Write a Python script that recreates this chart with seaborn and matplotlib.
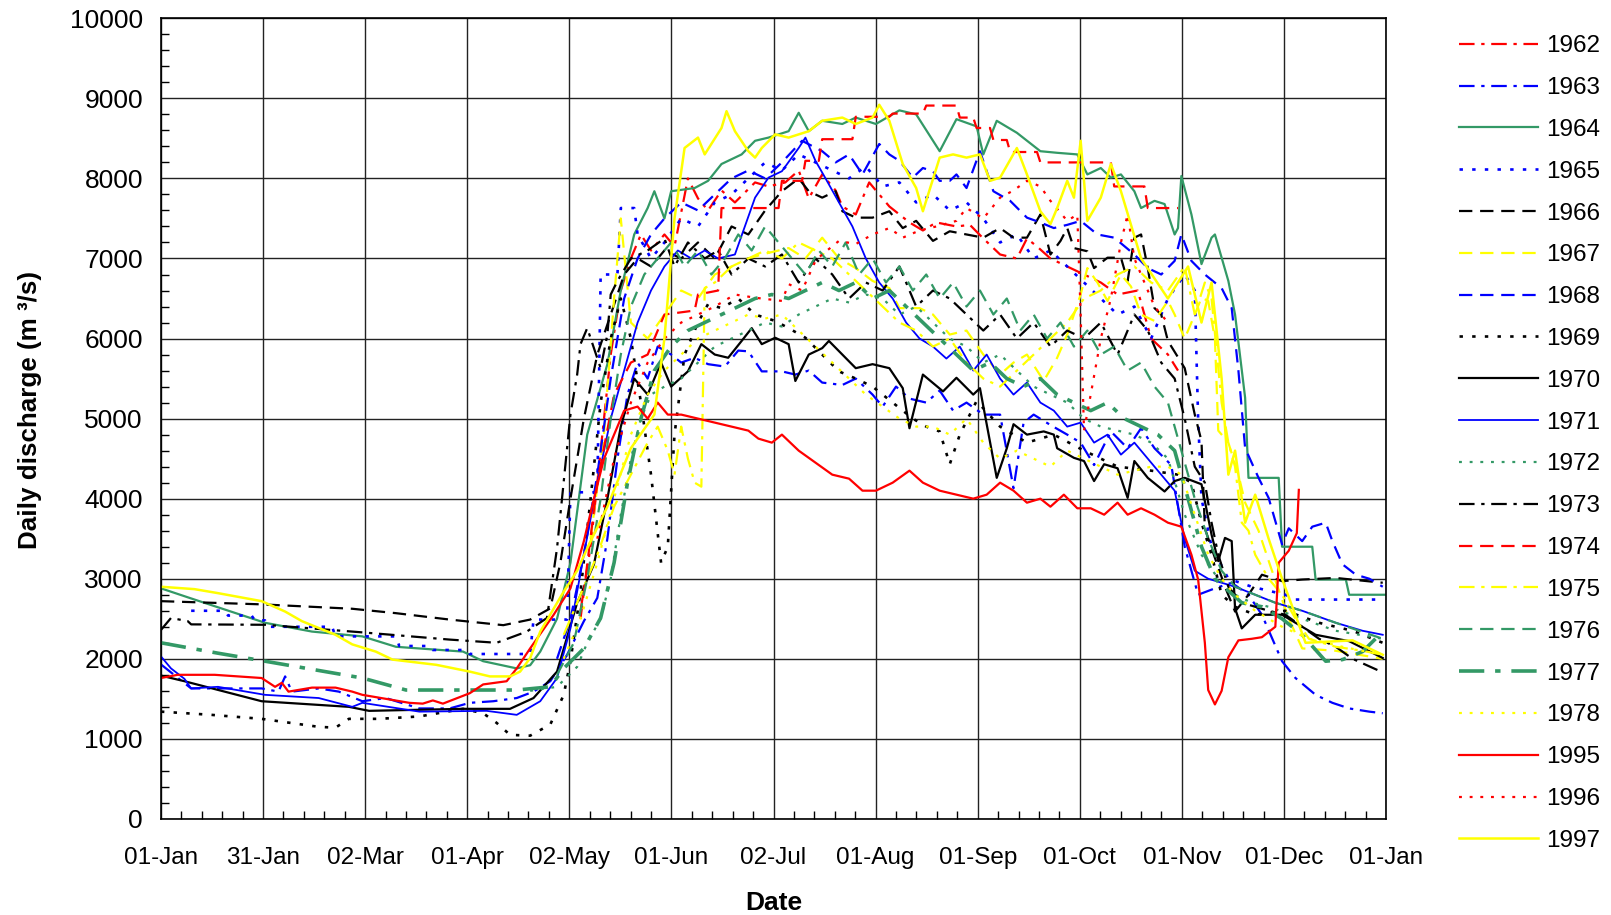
import matplotlib
matplotlib.use("Agg")
import matplotlib.pyplot as plt
import numpy as np
import pandas as pd
import seaborn as sb

# day of year (0 = 01-Jan) and daily discharge in m3/s

days_1962 = [125, 128, 131, 134, 137, 140, 143, 146, 150, 153, 157, 160, 163, 167, 171, 177, 181, 186, 190, 193, 197, 201, 203, 207, 211, 217, 223, 227, 231, 237, 241, 245, 250, 255, 258, 261, 265, 270, 275, 280, 285, 291, 295, 300, 303]
q_1962 = [2600, 3400, 4600, 5800, 6600, 7000, 7300, 7100, 7300, 7150, 8000, 7750, 7600, 7850, 7700, 7950, 7900, 7950, 8100, 7750, 8050, 7850, 7650, 7550, 7950, 7650, 7450, 7350, 7450, 7400, 7420, 7250, 7050, 7000, 7250, 7150, 7000, 6900, 6800, 6700, 6550, 6600, 6000, 5800, 5600]

days_1963 = [0, 9, 30, 35, 37, 39, 47, 53, 60, 67, 77, 86, 92, 99, 106, 111, 116, 121, 126, 130, 133, 136, 139, 142, 145, 148, 152, 155, 159, 163, 168, 172, 175, 179, 185, 189, 193, 197, 203, 207, 212, 215, 219, 223, 228, 232, 236, 240, 245, 250, 254, 257, 260, 265, 270, 274, 278, 283, 288, 292, 296, 301, 305, 309, 314, 319, 324, 328, 334, 338, 344, 349, 354, 360, 364]
q_1963 = [1930, 1630, 1630, 1590, 1780, 1590, 1630, 1590, 1470, 1510, 1380, 1380, 1450, 1470, 1510, 1590, 1720, 2050, 2470, 2760, 3500, 4500, 5300, 5700, 5500, 5900, 5800, 5700, 5760, 5680, 5650, 5850, 5840, 5590, 5590, 5550, 5600, 5450, 5420, 5500, 5300, 5150, 5400, 5250, 5200, 5350, 5100, 5200, 5050, 5050, 4130, 4950, 5050, 4920, 4800, 4700, 4420, 4840, 4630, 4880, 4630, 4420, 3400, 2800, 2880, 2950, 2800, 2550, 1970, 1760, 1550, 1450, 1380, 1340, 1320]

days_1964 = [0, 10, 31, 45, 60, 70, 90, 96, 106, 110, 113, 118, 122, 127, 133, 137, 141, 145, 147, 150, 152, 159, 163, 167, 173, 177, 181, 187, 190, 193, 197, 203, 207, 213, 220, 225, 232, 237, 243, 245, 249, 255, 262, 267, 273, 276, 280, 283, 286, 290, 292, 296, 299, 302, 303, 304, 307, 310, 313, 314, 318, 320, 323, 324, 333, 334, 343, 344, 353, 354, 365]
q_1964 = [2880, 2740, 2450, 2340, 2280, 2150, 2090, 1970, 1880, 1920, 2090, 2500, 3200, 4800, 5680, 6600, 7300, 7630, 7840, 7500, 7840, 7880, 7970, 8180, 8300, 8470, 8510, 8590, 8820, 8590, 8720, 8680, 8760, 8680, 8850, 8800, 8340, 8740, 8650, 8300, 8720, 8570, 8340, 8320, 8300, 8050, 8130, 8010, 8050, 7840, 7630, 7720, 7680, 7300, 7380, 8030, 7550, 6930, 7260, 7300, 6720, 6300, 5260, 4260, 4260, 3400, 3400, 2990, 2990, 2800, 2800]

days_1965 = [9, 19, 20, 27, 28, 31, 32, 51, 52, 70, 71, 80, 81, 91, 92, 110, 111, 121, 122, 130, 131, 136, 137, 141, 142, 146, 150, 155, 160, 165, 170, 175, 180, 185, 190, 195, 200, 205, 210, 215, 220, 225, 230, 235, 240, 245, 250, 255, 260, 265, 270, 275, 280, 285, 290, 295, 300, 305, 308, 309, 310, 313, 318, 325, 335, 338, 364]
q_1965 = [2600, 2600, 2540, 2540, 2480, 2480, 2400, 2400, 2280, 2280, 2160, 2160, 2110, 2110, 2060, 2060, 2490, 2490, 4080, 4080, 6800, 6800, 7630, 7630, 7300, 7000, 7200, 7500, 7400, 7700, 7800, 8000, 8200, 8100, 8300, 8200, 8100, 8000, 8150, 7900, 7950, 7700, 7800, 7600, 7700, 7500, 7200, 7300, 7000, 7100, 6900, 6700, 6500, 6300, 6400, 6000, 6500, 6800, 6600, 5000, 4000, 3400, 3000, 2900, 2800, 2740, 2740]

days_1966 = [0, 30, 57, 70, 86, 102, 110, 116, 119, 122, 126, 130, 134, 138, 142, 146, 150, 155, 160, 165, 170, 175, 180, 185, 190, 193, 197, 201, 203, 207, 212, 217, 221, 225, 230, 235, 240, 245, 250, 254, 258, 262, 265, 268, 270, 272, 276, 278, 282, 286, 288, 290, 292, 294, 296, 298, 300, 305, 308, 310, 311, 314, 317, 320, 324, 328, 334, 340, 350, 364]
q_1966 = [2720, 2680, 2625, 2570, 2490, 2420, 2490, 2630, 3200, 4000, 5000, 5800, 6300, 6800, 7000, 6900, 7100, 7000, 7200, 7000, 7400, 7300, 7600, 7840, 8000, 7840, 7760, 7840, 7590, 7510, 7510, 7590, 7380, 7470, 7220, 7340, 7300, 7260, 7380, 7260, 7260, 7550, 7050, 7220, 7380, 7130, 7090, 6880, 7010, 7010, 6720, 7260, 7300, 6880, 6380, 6300, 5970, 5630, 5050, 4720, 3630, 3260, 2900, 2590, 2800, 3050, 2970, 2990, 3010, 2950]

days_1967 = [128, 132, 135, 137, 140, 145, 150, 155, 160, 165, 170, 175, 179, 187, 192, 197, 202, 207, 212, 217, 220, 226, 230, 235, 240, 245, 250, 254, 258, 263, 267, 270, 274, 276, 279, 282, 286, 289, 292, 296, 300, 302, 305, 308, 310, 312, 314, 315, 318, 321, 323, 327, 331, 336, 340, 350, 364]
q_1967 = [3500, 4800, 6500, 7500, 6200, 6000, 6300, 6600, 6500, 6800, 6900, 7000, 7050, 7130, 7000, 7260, 7000, 6880, 6720, 6630, 6380, 6380, 6300, 6050, 6100, 5800, 5550, 5700, 5800, 5470, 5760, 6050, 6550, 6880, 6700, 6470, 6800, 6650, 6300, 6220, 6470, 6300, 6000, 6300, 6510, 6470, 6000, 4850, 4700, 4300, 3950, 3600, 3100, 2500, 2130, 2100, 2000]

days_1968 = [118, 122, 126, 130, 134, 138, 142, 146, 150, 155, 160, 165, 170, 175, 180, 185, 191, 197, 201, 205, 209, 214, 217, 220, 224, 227, 230, 232, 235, 237, 240, 244, 248, 253, 258, 262, 266, 270, 274, 279, 284, 290, 294, 298, 302, 304, 307, 311, 316, 319, 321, 323, 327, 330, 334, 336, 340, 343, 347, 349, 352, 356, 360, 364]
q_1968 = [2000, 2500, 3300, 4300, 5500, 6500, 7000, 7300, 7500, 7700, 7600, 7800, 8000, 8100, 8000, 8200, 8470, 8340, 8200, 8300, 8050, 8430, 8300, 8220, 8010, 8130, 8090, 7970, 7970, 8050, 7880, 8340, 7840, 7720, 7510, 7450, 7380, 7420, 7470, 7300, 7260, 7050, 6880, 6800, 6970, 7300, 6970, 6800, 6630, 6380, 5600, 4630, 4260, 4010, 3430, 3630, 3470, 3650, 3700, 3470, 3180, 3050, 3000, 2900]

days_1969 = [0, 15, 30, 47, 52, 56, 65, 77, 90, 96, 100, 104, 110, 116, 120, 122, 125, 128, 131, 134, 137, 140, 143, 146, 149, 151, 153, 156, 160, 163, 167, 172, 177, 183, 187, 192, 197, 202, 207, 212, 218, 224, 228, 232, 235, 238, 243, 250, 258, 266, 275, 285, 295, 303, 307, 310, 313, 316, 320, 326, 335, 345, 355, 364]
q_1969 = [1340, 1300, 1250, 1150, 1140, 1250, 1250, 1280, 1375, 1320, 1200, 1050, 1040, 1180, 1550, 1970, 2840, 4000, 5200, 6000, 6500, 6000, 5200, 4300, 3200, 3400, 4800, 5800, 6200, 6430, 6380, 6500, 6300, 6220, 6130, 6010, 5800, 5590, 5500, 5400, 5200, 5000, 4900, 4840, 4430, 4800, 5220, 4900, 4700, 4800, 4600, 4400, 4350, 4300, 4200, 3700, 3300, 2800, 2650, 2550, 2600, 2450, 2350, 2200]

days_1970 = [0, 7, 30, 56, 62, 90, 104, 111, 118, 124, 129, 133, 137, 141, 145, 149, 152, 157, 161, 165, 169, 173, 176, 179, 183, 187, 189, 193, 197, 199, 203, 207, 212, 217, 221, 223, 227, 233, 237, 242, 244, 249, 252, 254, 258, 263, 266, 267, 272, 275, 278, 281, 285, 288, 290, 294, 299, 302, 305, 310, 313, 315, 317, 319, 320, 322, 326, 334, 344, 354, 364]
q_1970 = [1790, 1720, 1470, 1400, 1350, 1375, 1375, 1510, 1840, 2700, 3180, 4000, 4900, 5500, 5300, 5700, 5400, 5590, 5930, 5800, 5760, 5970, 6130, 5930, 6010, 5930, 5470, 5800, 5880, 5970, 5800, 5630, 5680, 5630, 5380, 4880, 5550, 5340, 5510, 5300, 5380, 4260, 4630, 4930, 4800, 4840, 4800, 4630, 4510, 4470, 4220, 4430, 4380, 4010, 4470, 4260, 4090, 4220, 4260, 4180, 3550, 3220, 3510, 3470, 2630, 2380, 2550, 2550, 2300, 2220, 2010]

days_1971 = [0, 3, 7, 9, 17, 31, 47, 57, 60, 77, 97, 106, 113, 118, 122, 126, 130, 134, 138, 142, 146, 150, 154, 158, 162, 166, 171, 177, 181, 185, 190, 192, 195, 198, 202, 206, 210, 214, 218, 222, 226, 230, 234, 238, 242, 246, 250, 254, 258, 262, 266, 270, 274, 278, 282, 286, 290, 294, 298, 302, 305, 308, 312, 316, 320, 326, 332, 340, 350, 358, 364]
q_1971 = [2030, 1880, 1750, 1630, 1650, 1550, 1510, 1400, 1450, 1340, 1350, 1300, 1470, 1760, 2380, 3300, 4200, 5000, 5600, 6200, 6600, 6900, 7100, 7000, 7100, 7000, 7050, 7760, 8010, 8090, 8380, 8510, 8220, 8000, 7700, 7400, 7000, 6700, 6500, 6200, 6000, 5900, 5750, 5900, 5600, 5800, 5500, 5300, 5450, 5200, 5100, 4900, 4950, 4700, 4800, 4550, 4700, 4500, 4300, 4100, 3500, 3100, 3000, 2950, 2900, 2800, 2700, 2600, 2450, 2350, 2300]

days_1972 = [110, 118, 124, 127, 131, 134, 137, 140, 143, 146, 150, 155, 160, 165, 170, 175, 180, 185, 190, 195, 200, 205, 210, 215, 220, 225, 230, 235, 240, 245, 250, 255, 260, 265, 270, 275, 280, 285, 290, 295, 300, 305, 310, 315, 320, 325, 330, 340, 350, 364]
q_1972 = [1600, 1650, 1900, 2200, 2500, 3000, 3800, 4500, 5000, 5300, 5400, 5500, 5700, 5900, 6000, 6100, 6200, 6150, 6300, 6400, 6500, 6450, 6550, 6500, 6300, 6400, 6200, 6000, 5900, 5700, 5800, 5600, 5400, 5300, 5200, 5000, 4900, 4850, 4800, 4700, 4500, 3800, 3300, 3000, 2800, 2700, 2650, 2500, 2350, 2250]

days_1973 = [0, 3, 8, 9, 31, 60, 86, 100, 109, 115, 118, 122, 124, 125, 127, 129, 131, 133, 134, 136, 140, 145, 150, 153, 157, 162, 166, 170, 175, 180, 185, 190, 195, 200, 205, 210, 215, 220, 225, 230, 235, 240, 245, 250, 255, 260, 265, 270, 275, 280, 285, 290, 294, 298, 302, 305, 308, 311, 313, 315, 318, 322, 326, 330, 335, 340, 345, 350, 355, 364]
q_1973 = [2360, 2510, 2470, 2430, 2425, 2330, 2240, 2200, 2340, 2510, 3380, 5050, 5550, 5930, 6130, 5880, 5630, 6050, 6550, 6720, 7000, 7100, 7250, 6900, 7200, 7000, 7100, 6800, 7000, 6900, 7050, 6700, 7000, 6800, 6500, 6700, 6600, 6900, 6400, 6600, 6500, 6300, 6100, 6300, 6000, 6200, 5900, 6100, 6000, 6200, 5800, 6300, 6100, 5700, 5500, 5000, 4400, 4200, 3700, 3300, 2900, 2700, 2650, 2600, 2550, 2400, 2250, 2150, 2000, 1830]

days_1974 = [125, 130, 135, 140, 145, 150, 159, 160, 166, 167, 184, 185, 191, 192, 196, 197, 206, 207, 217, 218, 227, 228, 237, 238, 242, 243, 247, 248, 252, 253, 261, 262, 283, 284, 293, 294, 303]
q_1974 = [2500, 4200, 5300, 5700, 5800, 6300, 6350, 6550, 6600, 7630, 7630, 7970, 7970, 8220, 8220, 8490, 8490, 8770, 8770, 8810, 8810, 8910, 8910, 8760, 8760, 8630, 8630, 8480, 8480, 8330, 8330, 8200, 8200, 7900, 7900, 7630, 7630]

days_1975 = [120, 125, 130, 135, 140, 145, 148, 151, 153, 155, 157, 159, 161, 162, 165, 170, 175, 180, 185, 190, 195, 200, 205, 210, 215, 220, 225, 230, 235, 240, 245, 250, 255, 260, 265, 270, 275, 280, 285, 290, 295, 300, 305, 308, 311, 313, 316, 318, 320, 322, 324, 326, 330, 334, 338, 342, 350, 358, 364]
q_1975 = [2300, 2800, 3300, 3900, 4300, 4700, 4900, 4600, 4300, 4900, 4500, 4200, 4150, 6630, 6700, 6900, 7000, 7100, 7000, 7200, 7100, 7000, 6800, 6600, 6400, 6200, 6100, 5900, 6000, 5700, 5500, 5400, 5600, 5800, 6000, 6200, 6500, 6600, 6800, 6900, 6700, 6600, 6900, 6300, 6700, 6500, 5200, 4700, 4400, 3700, 3600, 3300, 3000, 2800, 2500, 2250, 2150, 2100, 2050]

days_1976 = [118, 123, 127, 131, 134, 137, 140, 144, 148, 152, 156, 160, 164, 168, 172, 176, 180, 184, 188, 192, 196, 200, 204, 208, 212, 216, 220, 224, 228, 232, 236, 240, 244, 248, 252, 256, 260, 264, 268, 272, 276, 280, 284, 288, 292, 296, 300, 304, 308, 312, 316, 320, 326, 332, 340, 350, 364]
q_1976 = [1800, 2200, 3000, 4000, 5000, 5800, 6400, 6800, 7000, 7200, 6900, 7100, 6800, 7000, 7300, 7100, 7400, 7200, 7000, 6800, 7100, 6900, 7200, 6800, 7000, 6700, 6900, 6600, 6800, 6500, 6700, 6400, 6600, 6300, 6500, 6100, 6300, 6000, 6200, 5900, 6100, 5800, 5900, 5600, 5700, 5400, 5200, 4600, 4000, 3500, 3100, 2900, 2800, 2700, 2600, 2450, 2250]

days_1977 = [0, 17, 31, 60, 73, 106, 116, 120, 126, 131, 135, 139, 143, 147, 152, 157, 162, 167, 172, 177, 182, 187, 192, 197, 202, 207, 212, 217, 222, 227, 232, 237, 242, 247, 252, 257, 262, 267, 272, 277, 282, 287, 292, 297, 302, 306, 310, 314, 318, 322, 328, 334, 340, 347, 352, 358, 364]
q_1977 = [2200, 2070, 1970, 1760, 1610, 1610, 1650, 1880, 2130, 2510, 3200, 4200, 5000, 5600, 5900, 6100, 6200, 6300, 6400, 6500, 6550, 6500, 6600, 6700, 6600, 6700, 6500, 6600, 6400, 6200, 6000, 5800, 5600, 5700, 5500, 5400, 5500, 5300, 5200, 5100, 5200, 5000, 4900, 4800, 4600, 4000, 3400, 3000, 2850, 2700, 2650, 2500, 2300, 1970, 1990, 2090, 2340]

days_1978 = [120, 125, 130, 135, 140, 145, 150, 155, 160, 165, 170, 175, 180, 185, 190, 195, 200, 205, 210, 215, 220, 225, 230, 235, 240, 245, 250, 255, 260, 265, 270, 275, 280, 285, 290, 295, 300, 304, 308, 312, 316, 320, 326, 334, 342, 352, 364]
q_1978 = [2000, 2500, 3200, 4000, 4800, 5300, 5600, 5800, 6000, 6100, 6200, 6300, 6250, 6300, 6100, 5900, 5700, 5500, 5300, 5150, 5000, 4900, 4900, 4800, 5000, 4700, 4500, 4600, 4500, 4400, 4600, 4500, 4400, 4300, 4350, 4400, 4400, 4300, 3800, 3300, 3000, 2800, 2600, 2400, 2250, 2150, 2050]

days_1995 = [0, 5, 16, 30, 34, 36, 38, 45, 52, 57, 60, 74, 78, 81, 84, 92, 96, 103, 106, 110, 117, 122, 126, 129, 132, 135, 138, 142, 145, 148, 151, 155, 160, 165, 170, 175, 178, 182, 185, 190, 195, 200, 205, 209, 213, 218, 223, 227, 232, 237, 242, 246, 250, 254, 258, 262, 265, 269, 273, 277, 281, 285, 288, 292, 296, 300, 304, 307, 309, 311, 312, 314, 316, 318, 321, 325, 328, 332, 333, 336, 338.4, 339]
q_1995 = [1760, 1800, 1800, 1760, 1650, 1700, 1590, 1640, 1640, 1590, 1550, 1450, 1440, 1480, 1440, 1570, 1680, 1720, 1880, 2130, 2550, 2880, 3470, 4000, 4500, 4800, 5100, 5150, 5000, 5200, 5050, 5050, 5000, 4950, 4900, 4850, 4750, 4700, 4800, 4600, 4450, 4300, 4250, 4100, 4100, 4200, 4350, 4200, 4100, 4050, 4000, 4050, 4200, 4100, 3950, 4000, 3900, 4050, 3880, 3880, 3800, 3950, 3800, 3880, 3800, 3700, 3650, 3300, 2990, 2200, 1610, 1430, 1600, 2020, 2230, 2250, 2270, 2400, 3200, 3350, 3570, 4110]

days_1996 = [130, 135, 140, 145, 150, 155, 160, 165, 171, 177, 185, 187, 191, 195, 197, 202, 207, 212, 217, 221, 226, 231, 237, 240, 245, 250, 254, 258, 262, 265, 270, 273, 274, 275, 277, 280, 283, 286, 288, 290, 293, 296, 300]
q_1996 = [3500, 4500, 5200, 5700, 6000, 6200, 6300, 6400, 6550, 6510, 6470, 6680, 6600, 6970, 7050, 7220, 7180, 7300, 7380, 7260, 7350, 7400, 7470, 7630, 7500, 7760, 7850, 7970, 7900, 7720, 7470, 7550, 6300, 4850, 5300, 6000, 6500, 7200, 7550, 7000, 6700, 6400, 6200]

days_1997 = [0, 10, 17, 30, 37, 42, 52, 57, 64, 69, 82, 92, 98, 104, 107, 110, 113, 120, 124, 127, 133, 140, 147, 150, 153, 156, 160, 162, 167, 168.5, 171, 175, 177, 179, 183, 187, 193, 197, 203, 207, 212, 214, 217, 221, 225, 227, 232, 236, 240, 244, 247, 250, 255, 258, 262, 265, 267, 270, 272, 274, 276, 280, 283, 286, 292, 300, 306, 310, 313, 316, 318, 320, 323, 326, 330, 334, 341, 355, 364]
q_1997 = [2900, 2870, 2820, 2720, 2590, 2470, 2300, 2180, 2090, 1990, 1925, 1840, 1780, 1780, 1840, 2010, 2340, 2840, 3100, 3380, 3900, 4630, 5050, 6000, 7500, 8380, 8510, 8300, 8630, 8840, 8590, 8340, 8260, 8380, 8550, 8510, 8590, 8720, 8760, 8680, 8760, 8920, 8720, 8180, 7880, 7590, 8260, 8300, 8260, 8300, 7970, 8010, 8380, 8050, 7590, 7430, 7630, 7970, 7760, 8470, 7470, 7760, 8180, 7840, 7000, 6500, 6900, 6200, 6700, 5500, 4300, 4600, 3700, 4050, 3500, 3000, 2200, 2230, 2050]

years = [1962, 1963, 1964, 1965, 1966, 1967, 1968, 1969, 1970, 1971, 1972, 1973, 1974, 1975, 1976, 1977, 1978, 1995, 1996, 1997]

month_labels = ["01-Jan", "31-Jan", "02-Mar", "01-Apr", "02-May", "01-Jun", "02-Jul",
                "01-Aug", "01-Sep", "01-Oct", "01-Nov", "01-Dec", "01-Jan"]

RED, BLUE, GREEN, BLACK, YELLOW = "#FF0000", "#0000FF", "#339966", "#000000", "#FFFF00"
dashdot = (0, (7, 3, 1.5, 3))
dashed = (0, (6, 3.5))
dotted = (0, (1.3, 3.5))

# colour, line style, width
styles = {
    1962: (RED, dashdot, 1.6),
    1963: (BLUE, dashdot, 1.6),
    1964: (GREEN, "-", 1.6),
    1965: (BLUE, dotted, 1.9),
    1966: (BLACK, dashed, 1.6),
    1967: (YELLOW, dashed, 1.6),
    1968: (BLUE, dashed, 1.6),
    1969: (BLACK, dotted, 1.9),
    1970: (BLACK, "-", 1.6),
    1971: (BLUE, "-", 1.3),
    1972: (GREEN, dotted, 1.6),
    1973: (BLACK, dashdot, 1.6),
    1974: (RED, dashed, 1.6),
    1975: (YELLOW, dashdot, 1.6),
    1976: (GREEN, dashed, 1.6),
    1977: (GREEN, dashdot, 2.6),
    1978: (YELLOW, dotted, 1.6),
    1995: (RED, "-", 1.6),
    1996: (RED, dotted, 1.6),
    1997: (YELLOW, "-", 1.8),
}

frames = []
for y in years:
    frames.append(pd.DataFrame({"day": globals()["days_%d" % y],
                                "q": globals()["q_%d" % y],
                                "year": y}))
df = pd.concat(frames, ignore_index=True)

plt.rcParams["font.family"] = ["Liberation Sans", "DejaVu Sans"]

fig = plt.figure(figsize=(16.11, 9.15), dpi=100)
ax = fig.add_axes([0.0999, 0.105, 0.7605, 0.875])

for y in years:
    c, ls, lw = styles[y]
    sb.lineplot(data=df[df["year"] == y], x="day", y="q", ax=ax, color=c,
                linestyle=ls, linewidth=lw, label=str(y), estimator=None, sort=False)

ax.set_xlim(0, 365)
ax.set_ylim(0, 10000)
ax.set_xticks(np.linspace(0, 365, 13))
ax.set_xticklabels(month_labels)
ax.set_xticks(np.linspace(0, 365, 61), minor=True)
ax.set_yticks(np.arange(0, 10001, 1000))
ax.set_yticks(np.arange(0, 10001, 200), minor=True)
ax.tick_params(which="major", length=0)
ax.tick_params(axis="x", which="major", pad=20, labelsize=17.5)
ax.tick_params(axis="y", which="major", pad=13, labelsize=19)
ax.tick_params(which="minor", direction="in", length=6, width=1, color="black")
ax.grid(which="major", color="#222222", linewidth=1)
ax.set_axisbelow(True)
for s in ax.spines.values():
    s.set_color("black")
    s.set_linewidth(1.2)

ax.set_xlabel("Date", fontsize=19, fontweight="bold", labelpad=16)
ax.set_ylabel("Daily discharge (m ³/s)", fontsize=18.7, fontweight="bold")
ax.yaxis.set_label_coords(-0.097, 0.511)

ax.legend(loc="upper left", bbox_to_anchor=(0.9057, 0.9615), bbox_transform=fig.transFigure,
          frameon=False, fontsize=17.5, handlelength=3.25, handletextpad=0.33,
          labelspacing=0.815, borderpad=0, borderaxespad=0)

fig.savefig("out.png", dpi=100)
